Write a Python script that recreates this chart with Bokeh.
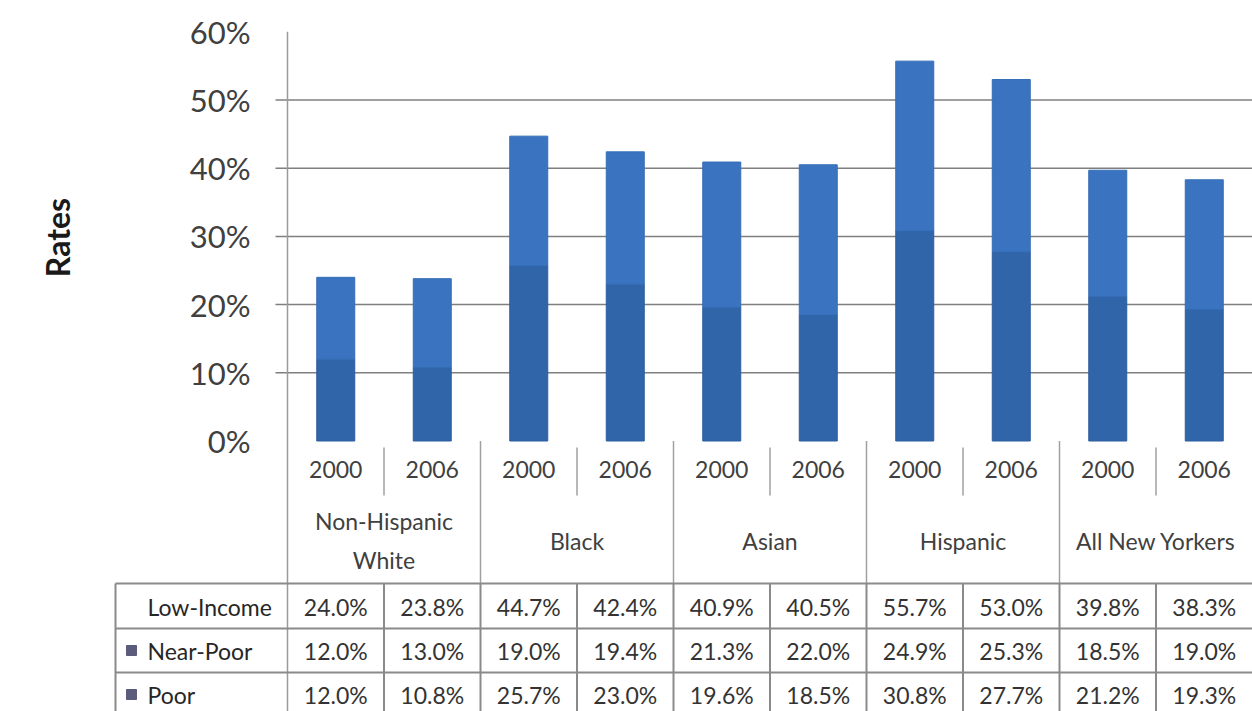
from bokeh.plotting import figure
from bokeh.models import Range1d, ColumnDataSource
from bokeh.core.properties import value
from bokeh.embed import file_html
from bokeh.resources import INLINE

# ---------------- data ----------------
groups = ["Non-Hispanic\nWhite", "Black", "Asian", "Hispanic", "All New Yorkers"]
years = ["2000", "2006"]
low_income = [24.0, 23.8, 44.7, 42.4, 40.9, 40.5, 55.7, 53.0, 39.8, 38.3]
near_poor = [12.0, 13.0, 19.0, 19.4, 21.3, 22.0, 24.9, 25.3, 18.5, 19.0]
poor = [12.0, 10.8, 25.7, 23.0, 19.6, 18.5, 30.8, 27.7, 21.2, 19.3]
row_names = ["Low-Income", "Near-Poor", "Poor"]
y_ticks = [0, 10, 20, 30, 40, 50, 60]
y_tick_labels = ["0%", "10%", "20%", "30%", "40%", "50%", "60%"]
grid_values = [10, 20, 30, 40, 50]
y_title = "Rates"

# ---------------- layout constants ----------------
W, H = 1252, 711
X0_PX, COL_PX = 287.0, 96.5          # pixel of category 0 left edge, column width
Y0_PX, PX_PER_UNIT = 440.5, 6.82     # pixel of 0%, pixels per 1%


def ydat(px):
    return (Y0_PX - px) / PX_PER_UNIT


def xdat(px):
    return (px - X0_PX) / COL_PX


FONT = value("Lato")
TXT = "#404040"
LINE = "#8a8a8a"

p = figure(width=W, height=H, output_backend="svg", toolbar_location=None,
           x_axis_location=None, y_axis_location=None,
           x_range=Range1d(xdat(0), xdat(W)), y_range=Range1d(ydat(H), ydat(0)),
           min_border=0, min_border_left=0, min_border_right=0,
           min_border_top=0, min_border_bottom=0)
p.outline_line_color = None
p.xgrid.visible = False
p.ygrid.visible = False
p.background_fill_color = "white"
p.border_fill_color = "white"

n = len(low_income)
xc = [i + 0.5 for i in range(n)]

# gridlines + tick marks
p.segment(x0=[xdat(275)] * len(grid_values), y0=grid_values,
          x1=[n] * len(grid_values), y1=grid_values,
          line_color="#7f7f7f", line_width=1.5)

# y axis line (continues down to the table)
p.segment(x0=[0], y0=[y_ticks[-1]], x1=[0], y1=[ydat(H)], line_color="#9a9a9a", line_width=1.5)

# y tick labels
p.text(x=[xdat(250)] * len(y_ticks), y=y_ticks, text=y_tick_labels,
       text_font=FONT, text_font_size=value("31px"), text_color=TXT,
       text_align="right", text_baseline="middle")

# y axis title
p.text(x=[xdat(57)], y=[ydat(237)], text=[y_title], angle=1.5707963,
       text_font=FONT, text_font_size=value("32px"), text_font_style="bold",
       text_color="#1a1a1a", text_align="center", text_baseline="middle")

# stacked bars
bottoms_np = poor
tops_np = [a + b for a, b in zip(poor, near_poor)]
src = ColumnDataSource(dict(x=xc, poor=poor, b=bottoms_np, t=tops_np))
BW = 38 / COL_PX
p.vbar(x="x", bottom=0, top="poor", width=BW, source=src,
       fill_color="#3165AA", line_color="#2D5E9F", line_width=1)
p.vbar(x="x", bottom="b", top="t", width=BW, source=src,
       fill_color="#3A74C0", line_color="#346DB6", line_width=1)

# year labels and separators
year_lab = [years[i % 2] for i in range(n)]
p.text(x=xc, y=[ydat(469)] * n, text=year_lab, text_font=FONT,
       text_font_size=value("23px"), text_color=TXT,
       text_align="center", text_baseline="middle")
ysep = [i for i in range(1, n) if i % 2 == 1]
p.segment(x0=ysep, y0=[ydat(447)] * len(ysep), x1=ysep, y1=[ydat(495)] * len(ysep),
          line_color="#a0a0a0", line_width=1.5)
gsep = [i for i in range(1, n) if i % 2 == 0]
TABLE_TOP = ydat(583)
p.segment(x0=gsep, y0=[0] * len(gsep), x1=gsep, y1=[TABLE_TOP] * len(gsep),
          line_color="#a0a0a0", line_width=1.5)

# group labels
gx = [2 * g + 1 for g in range(len(groups))]
p.text(x=gx, y=[ydat(540)] * len(groups), text=groups, text_font=FONT,
       text_font_size=value("23px"), text_color=TXT, text_line_height=1.4,
       text_align="center", text_baseline="middle")

# data table
row_lines_px = [583, 628, 672]
row_centers_px = [606, 650, 694]
tx_left = xdat(115)
p.segment(x0=[tx_left] * 3, y0=[ydat(v) for v in row_lines_px],
          x1=[n] * 3, y1=[ydat(v) for v in row_lines_px],
          line_color=LINE, line_width=2)
vlines = [tx_left] + list(range(1, n))
p.segment(x0=vlines, y0=[TABLE_TOP] * len(vlines), x1=vlines, y1=[ydat(H)] * len(vlines),
          line_color=LINE, line_width=2)

p.text(x=[xdat(147)] * 3, y=[ydat(v) for v in row_centers_px], text=row_names,
       text_font=FONT, text_font_size=value("23px"), text_color="#262626",
       text_align="left", text_baseline="middle")
p.scatter(x=[xdat(131)] * 2, y=[ydat(v) for v in row_centers_px[1:]],
          marker="square", size=10, fill_color="#5B5B7B", line_color="#5B5B7B")

for series, cy in zip([low_income, near_poor, poor], row_centers_px):
    p.text(x=xc, y=[ydat(cy)] * n, text=[f"{v:.1f}%" for v in series],
           text_font=FONT, text_font_size=value("23px"), text_color="#333333",
           text_align="center", text_baseline="middle")

open("out.html", "w").write(file_html(p, INLINE))
